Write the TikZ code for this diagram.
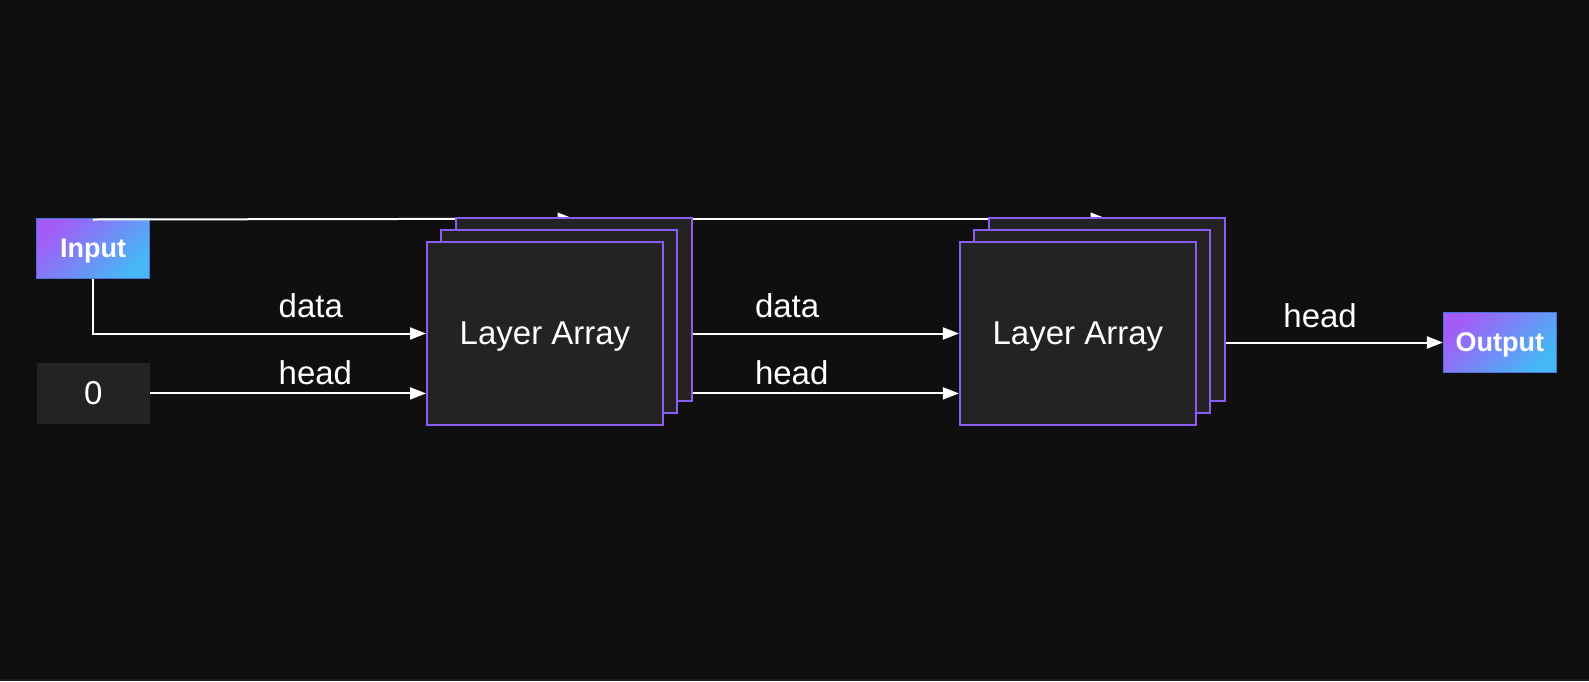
\documentclass[tikz,border=0pt]{standalone}
\usepackage{fontspec}
\setmainfont{Liberation Sans}
\usetikzlibrary{arrows.meta}
\definecolor{canvasbg}{HTML}{0F0F0F}
\definecolor{canvasedge}{HTML}{1E1E1E}
\definecolor{boxfill}{HTML}{232323}
\definecolor{boxedge}{HTML}{8B5CF6}
\definecolor{portpurple}{HTML}{A35CF8}
\definecolor{portblue}{HTML}{45B8F5}
\definecolor{portedge}{HTML}{4C74D6}
\pgfdeclarelayer{behind}
\pgfsetlayers{behind,main}

\begin{document}
\begin{tikzpicture}[x=0.5pt, y=-0.5pt,
                    every node/.style={white, font=\fontsize{16.5}{20}\selectfont},
                    wire/.style={white, line width=1pt, -{Triangle[length=8pt, width=6pt]}},
                    layerbox/.style={draw=boxedge, fill=boxfill, line width=1pt, inner sep=0pt,
                                     text depth=0pt, minimum width=118pt, minimum height=91.5pt},
                    portbox/.style={top color=portpurple, bottom color=portblue, shading angle=45,
                                    draw=portedge, line width=0.4pt, inner sep=0pt, text depth=0pt,
                                    minimum width=56.5pt, minimum height=30pt,
                                    font=\fontsize{13.5}{16}\selectfont\bfseries},
                    constbox/.style={fill=boxfill, inner sep=0pt, minimum width=56.5pt, minimum height=30.3pt},
                    edgelabel/.style={anchor=base west, inner sep=0pt}]

  \useasboundingbox (0,0) rectangle (1589,681);

  %% ---- canvas, input, and the wires along the top (behind the stacks) ----
  \begin{pgfonlayer}{behind}
    \fill[canvasbg] (0,0) rectangle (1589,681);
    \fill[canvasedge] (0,679) rectangle (1589,681);
    \node[portbox] (in) at (93,248.2) {Input};
  \end{pgfonlayer}

  %% ---- constant head ----
  \node[constbox] (zero) at (93.3,393.4) {0};

  %% ---- first layer array (back to front) ----
  \node[layerbox] (la1c) at (573.7,309.5) {};
  \node[layerbox] (la1b) at (559.3,321.5) {};
  \node[layerbox] (la1) at (545,333.5) {Layer Array};

  %% ---- second layer array (back to front) ----
  \node[layerbox] (la2c) at (1106.6,309.5) {};
  \node[layerbox] (la2b) at (1092.2,321.5) {};
  \node[layerbox] (la2) at (1077.9,333.5) {Layer Array};

  %% ---- sink ----
  \node[portbox] (out) at (1499.8,342.5) {Output};

  %% ---- top wires: drawn over the input, hidden by the stacks ----
  \begin{pgfonlayer}{behind}
    \draw[wire] ([yshift=-0.85pt]in.north) -- ([yshift=-0.85pt]la1c.north);
    \draw[wire] ([yshift=-0.85pt]la1c.north) -- ([yshift=-0.85pt]la2c.north);
  \end{pgfonlayer}

  %% ---- data and head wires ----
  \draw[wire] (in.south) |- (la1.west);
  \draw[wire] (zero.east) -- (zero.east -| la1.west);
  \draw[wire] (la1c.east |- la1.west) -- (la2.west);
  \draw[wire] (la1c.east |- zero.east) -- (la2.west |- zero.east);
  \draw[wire] (la2c.east |- out.west) -- (out.west);

  %% ---- wire labels ----
  \node[edgelabel] (lbldata1) at (278.3,317.5) {data};
  \node[edgelabel] (lblhead1) at (278.3,384) {head};
  \node[edgelabel] (lbldata2) at (754.6,317.5) {data};
  \node[edgelabel] (lblhead2) at (754.6,384) {head};
  \node[edgelabel] (lblhead3) at (1283,327.7) {head};

\end{tikzpicture}
\end{document}
